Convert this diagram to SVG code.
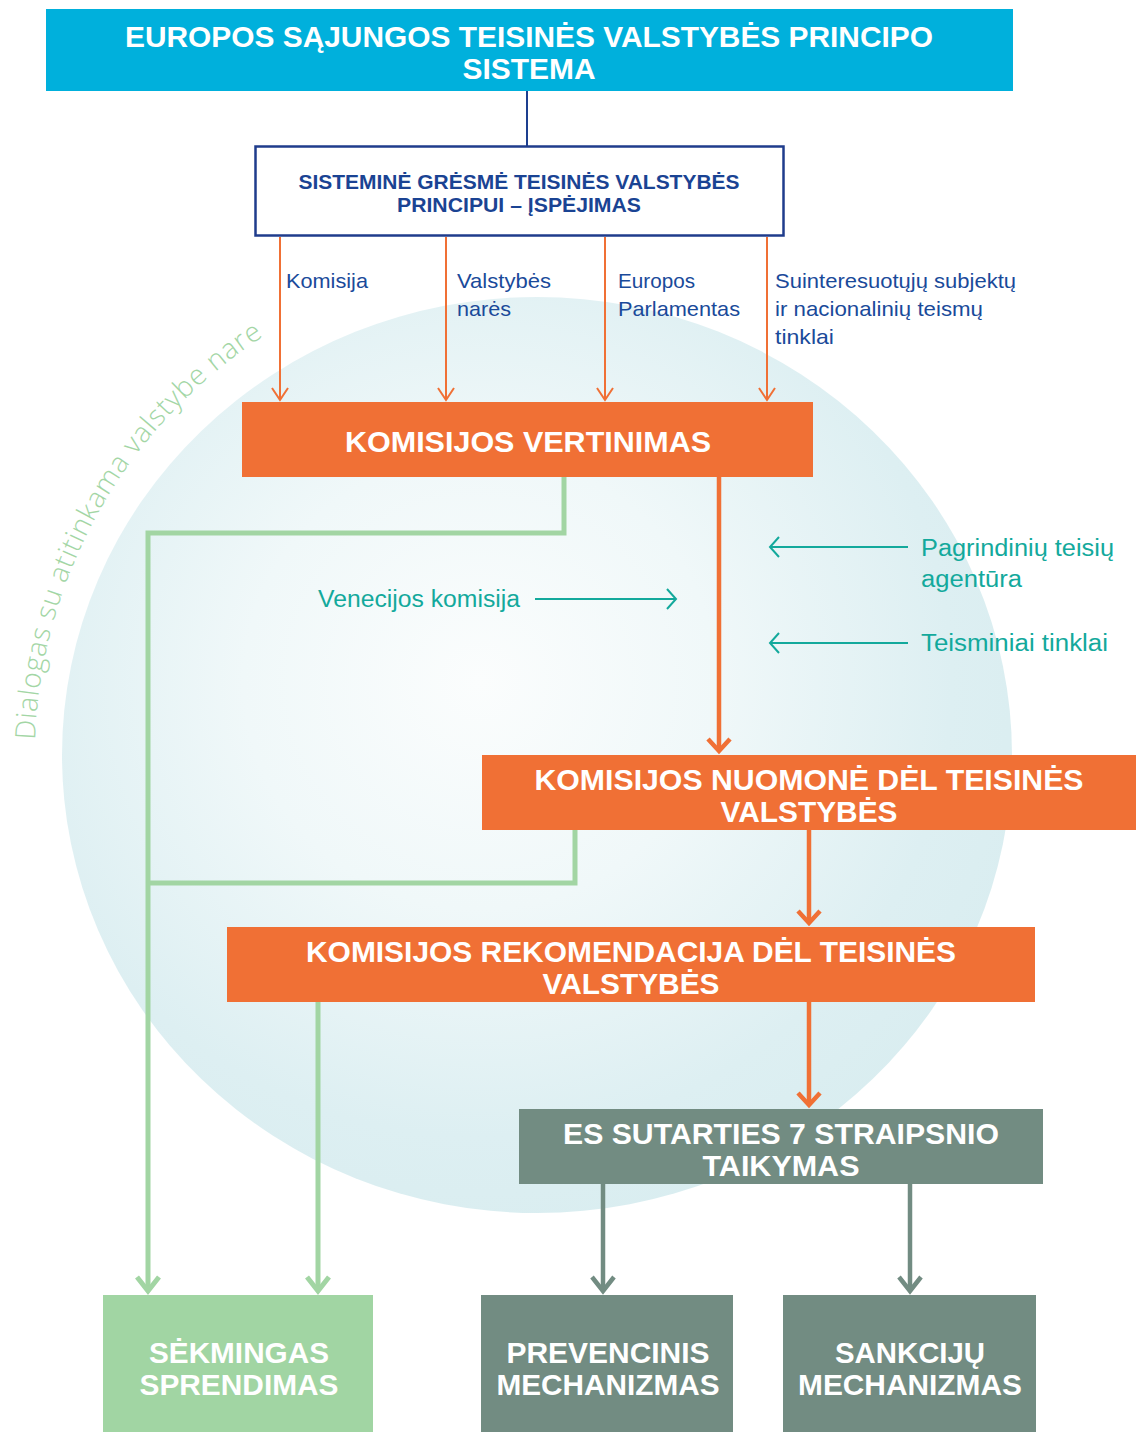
<svg xmlns="http://www.w3.org/2000/svg" width="1136" height="1432" viewBox="0 0 1136 1432">
<style>
.h{font-family:"Liberation Sans",Arial,sans-serif;font-weight:bold;fill:#fff;text-anchor:middle;font-size:30px}
.hb{font-family:"Liberation Sans",Arial,sans-serif;font-weight:bold;fill:#1a4393;text-anchor:middle;font-size:21px}
.lb{font-family:"Liberation Sans",Arial,sans-serif;fill:#1a4a9a;font-size:21px}
.lt{font-family:"Liberation Sans",Arial,sans-serif;fill:#13a99c;font-size:23px}
.arc{font-family:"Open Sans","Liberation Sans",sans-serif;font-weight:300;fill:#a3d6a5;font-size:28px}
.or{fill:#f07035}
.gr{fill:#728c82}
.gn{fill:#a1d5a3}
.c-or-thin{stroke:#f07035;stroke-width:2;fill:none}
.c-or{stroke:#f07035;stroke-width:4.5;fill:none}
.c-gn{stroke:#a2d5a3;stroke-width:5;fill:none}
.c-gr{stroke:#728c82;stroke-width:4.5;fill:none}
.c-bl{stroke:#1d3f8f;stroke-width:2;fill:none}
.c-tl{stroke:#13a99c;stroke-width:2;fill:none}
</style>
<defs>
<radialGradient id="bg" cx="0.44" cy="0.42" r="0.62">
<stop offset="0" stop-color="#fbfdfd"/>
<stop offset="0.4" stop-color="#f0f8f9"/>
<stop offset="0.8" stop-color="#ddeff2"/>
<stop offset="1" stop-color="#d9edf0"/>
</radialGradient>
<marker id="mOrThin" markerUnits="userSpaceOnUse" orient="auto" refX="0" refY="0" markerWidth="30" markerHeight="30" overflow="visible">
<path d="M-12,-8 L0,0 L-12,8" fill="none" stroke="#f07035" stroke-width="2"/>
</marker>
<marker id="mOr" markerUnits="userSpaceOnUse" orient="auto" refX="0" refY="0" markerWidth="30" markerHeight="30" overflow="visible">
<path d="M-12,-11 L0,0 L-12,11" fill="none" stroke="#f07035" stroke-width="4.5"/>
</marker>
<marker id="mGn" markerUnits="userSpaceOnUse" orient="auto" refX="0" refY="0" markerWidth="30" markerHeight="30" overflow="visible">
<path d="M-14,-11 L0,0 L-14,11" fill="none" stroke="#a2d5a3" stroke-width="5"/>
</marker>
<marker id="mGr" markerUnits="userSpaceOnUse" orient="auto" refX="0" refY="0" markerWidth="30" markerHeight="30" overflow="visible">
<path d="M-14,-11 L0,0 L-14,11" fill="none" stroke="#728c82" stroke-width="4.5"/>
</marker>
<marker id="mTl" markerUnits="userSpaceOnUse" orient="auto" refX="0" refY="0" markerWidth="30" markerHeight="30" overflow="visible">
<path d="M-9,-10 L0,0 L-9,10" fill="none" stroke="#13a99c" stroke-width="2"/>
</marker>
<path id="arcPath" d="M 35,740 A 502 502 0 0 1 330,300"/>
</defs>

<g id="background">
<ellipse cx="537" cy="755" rx="475" ry="458" fill="url(#bg)"/>
<text class="arc"><textPath href="#arcPath" textLength="482" lengthAdjust="spacing">Dialogas su atitinkama valstybe nare</textPath></text>
</g>

<g id="connectors">
<line class="c-bl" x1="527" y1="91" x2="527" y2="146"/>
<line class="c-or-thin" x1="280" y1="237" x2="280" y2="400" marker-end="url(#mOrThin)"/>
<line class="c-or-thin" x1="446" y1="237" x2="446" y2="400" marker-end="url(#mOrThin)"/>
<line class="c-or-thin" x1="605" y1="237" x2="605" y2="400" marker-end="url(#mOrThin)"/>
<line class="c-or-thin" x1="767" y1="237" x2="767" y2="400" marker-end="url(#mOrThin)"/>
<line class="c-or" x1="719" y1="477" x2="719" y2="751" marker-end="url(#mOr)"/>
<line class="c-or" x1="809" y1="830" x2="809" y2="923" marker-end="url(#mOr)"/>
<line class="c-or" x1="809" y1="1002" x2="809" y2="1105" marker-end="url(#mOr)"/>
<polyline class="c-gn" points="564,477 564,533 148,533 148,1291" marker-end="url(#mGn)"/>
<polyline class="c-gn" points="575,830 575,883 148,883"/>
<line class="c-gn" x1="318" y1="1002" x2="318" y2="1291" marker-end="url(#mGn)"/>
<line class="c-gr" x1="603" y1="1184" x2="603" y2="1291" marker-end="url(#mGr)"/>
<line class="c-gr" x1="910" y1="1184" x2="910" y2="1291" marker-end="url(#mGr)"/>
<line class="c-tl" x1="908" y1="547" x2="770" y2="547" marker-end="url(#mTl)"/>
<line class="c-tl" x1="535" y1="599" x2="676" y2="599" marker-end="url(#mTl)"/>
<line class="c-tl" x1="908" y1="643" x2="770" y2="643" marker-end="url(#mTl)"/>
</g>

<g id="labels">
<text class="lb" x="286" y="288" textLength="82" lengthAdjust="spacingAndGlyphs">Komisija</text>
<text class="lb" x="457" y="288" textLength="94" lengthAdjust="spacingAndGlyphs">Valstybės</text>
<text class="lb" x="457" y="316" textLength="54" lengthAdjust="spacingAndGlyphs">narės</text>
<text class="lb" x="618" y="288" textLength="77" lengthAdjust="spacingAndGlyphs">Europos</text>
<text class="lb" x="618" y="316" textLength="122" lengthAdjust="spacingAndGlyphs">Parlamentas</text>
<text class="lb" x="775" y="288" textLength="241" lengthAdjust="spacingAndGlyphs">Suinteresuotųjų subjektų</text>
<text class="lb" x="775" y="316" textLength="208" lengthAdjust="spacingAndGlyphs">ir nacionalinių teismų</text>
<text class="lb" x="775" y="344" textLength="59" lengthAdjust="spacingAndGlyphs">tinklai</text>
<text class="lt" x="921" y="556" textLength="193" lengthAdjust="spacingAndGlyphs">Pagrindinių teisių</text>
<text class="lt" x="921" y="587" textLength="101" lengthAdjust="spacingAndGlyphs">agentūra</text>
<text class="lt" x="318" y="607" textLength="202" lengthAdjust="spacingAndGlyphs">Venecijos komisija</text>
<text class="lt" x="921" y="651" textLength="187" lengthAdjust="spacingAndGlyphs">Teisminiai tinklai</text>
</g>

<g id="node-sistema">
<rect x="46" y="9" width="967" height="82" fill="#00b0dc"/>
<text class="h" x="529" y="47" textLength="808" lengthAdjust="spacingAndGlyphs">EUROPOS SĄJUNGOS TEISINĖS VALSTYBĖS PRINCIPO</text>
<text class="h" x="529" y="79" textLength="133" lengthAdjust="spacingAndGlyphs">SISTEMA</text>
</g>

<g id="node-ispejimas">
<rect x="255.5" y="146.5" width="528" height="89" fill="#fff" stroke="#1f3c8c" stroke-width="2.5"/>
<text class="hb" x="519" y="189" textLength="441" lengthAdjust="spacingAndGlyphs">SISTEMINĖ GRĖSMĖ TEISINĖS VALSTYBĖS</text>
<text class="hb" x="519" y="212" textLength="244" lengthAdjust="spacingAndGlyphs">PRINCIPUI – ĮSPĖJIMAS</text>
</g>

<g id="node-vertinimas">
<rect class="or" x="242" y="402" width="571" height="75"/>
<text class="h" x="528" y="452" textLength="366" lengthAdjust="spacingAndGlyphs">KOMISIJOS VERTINIMAS</text>
</g>

<g id="node-nuomone">
<rect class="or" x="482" y="755" width="654" height="75"/>
<text class="h" x="809" y="790" textLength="549" lengthAdjust="spacingAndGlyphs">KOMISIJOS NUOMONĖ DĖL TEISINĖS</text>
<text class="h" x="809" y="822" textLength="177" lengthAdjust="spacingAndGlyphs">VALSTYBĖS</text>
</g>

<g id="node-rekomendacija">
<rect class="or" x="227" y="927" width="808" height="75"/>
<text class="h" x="631" y="962" textLength="650" lengthAdjust="spacingAndGlyphs">KOMISIJOS REKOMENDACIJA DĖL TEISINĖS</text>
<text class="h" x="631" y="994" textLength="177" lengthAdjust="spacingAndGlyphs">VALSTYBĖS</text>
</g>

<g id="node-7straipsnis">
<rect class="gr" x="519" y="1109" width="524" height="75"/>
<text class="h" x="781" y="1144" textLength="436" lengthAdjust="spacingAndGlyphs">ES SUTARTIES 7 STRAIPSNIO</text>
<text class="h" x="781" y="1176" textLength="157" lengthAdjust="spacingAndGlyphs">TAIKYMAS</text>
</g>

<g id="node-sekmingas">
<rect class="gn" x="103" y="1295" width="270" height="137"/>
<text class="h" x="239" y="1363" textLength="180" lengthAdjust="spacingAndGlyphs">SĖKMINGAS</text>
<text class="h" x="239" y="1395" textLength="199" lengthAdjust="spacingAndGlyphs">SPRENDIMAS</text>
</g>

<g id="node-prevencinis">
<rect class="gr" x="481" y="1295" width="252" height="137"/>
<text class="h" x="608" y="1363" textLength="203" lengthAdjust="spacingAndGlyphs">PREVENCINIS</text>
<text class="h" x="608" y="1395" textLength="223" lengthAdjust="spacingAndGlyphs">MECHANIZMAS</text>
</g>

<g id="node-sankciju">
<rect class="gr" x="783" y="1295" width="253" height="137"/>
<text class="h" x="910" y="1363" textLength="150" lengthAdjust="spacingAndGlyphs">SANKCIJŲ</text>
<text class="h" x="910" y="1395" textLength="224" lengthAdjust="spacingAndGlyphs">MECHANIZMAS</text>
</g>
</svg>
